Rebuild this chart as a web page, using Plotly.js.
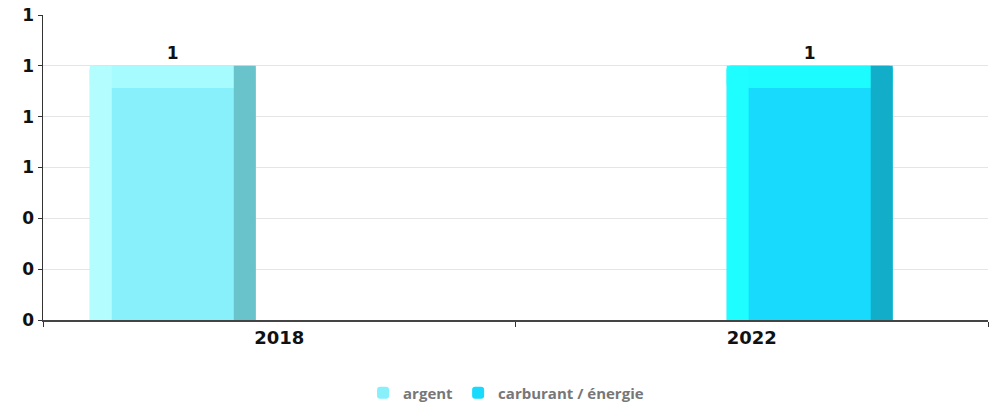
<!DOCTYPE html>
<html><head><meta charset="utf-8">
<script src="https://cdn.plot.ly/plotly-3.0.1.min.js"></script>
<style>html,body{margin:0;padding:0;background:#fff}#c{width:998px;height:404px}</style>
</head><body><div id="c"></div>
<script>
const categories = ['2018', '2022'];
const argent = [1, null];
const carburant = [null, 1];
const yTicks = [0, 0.2, 0.4, 0.6, 0.8, 1, 1.2];

const unit = 1 / 472.5; // category units per pixel (approx)
const W = 166 * unit, S = 22 * unit, T = 0.087;

function barSet(name, vals, offset, main, light, dark, top) {
  const common = {type: 'bar', x: categories, width: W, hoverinfo: 'skip', showlegend: false};
  return [
    Object.assign({}, common, {name: name, y: vals, offset: offset, marker: {color: main, cornerradius: 4},
      showlegend: true, text: vals.map(v => v == null ? '' : String(v)), textposition: 'outside',
      textfont: {family: 'DejaVu Sans', size: 17, color: '#111', weight: 'bold'}, cliponaxis: false}),
    Object.assign({}, common, {y: vals.map(v => v == null ? null : T), base: vals.map(v => v == null ? null : v - T),
      offset: offset, marker: {color: top, cornerradius: 4}}),
    Object.assign({}, common, {y: vals, offset: offset, width: S, marker: {color: light}}),
    Object.assign({}, common, {y: vals, offset: offset + W - S, width: S, marker: {color: dark}})
  ];
}

const data = [
  ...barSet('argent', argent, -0.401, '#88f0fb', '#b4fdff', '#69c3cb', '#a6fbff'),
  ...barSet('carburant / énergie', carburant, -0.053, '#17dafd', '#1efdff', '#12adc8', '#1cfcff')
];

const layout = {
  width: 998, height: 404,
  margin: {l: 43, r: 10, t: 15, b: 84},
  barmode: 'overlay',
  paper_bgcolor: '#fff', plot_bgcolor: '#fff',
  font: {family: 'DejaVu Sans', color: '#111'},
  xaxis: {type: 'category', tickson: 'boundaries', ticks: 'outside', ticklen: 5, tickcolor: '#333',
    showline: true, linecolor: '#444', linewidth: 2, showgrid: false, automargin: false,
    tickfont: {family: 'DejaVu Sans', size: 18, color: '#111', weight: 'bold'}},
  yaxis: {range: [0, 1.2001], tickvals: yTicks, tickformat: '.0f', ticks: 'outside', ticklen: 4, tickcolor: '#333',
    showline: true, linecolor: '#333', linewidth: 1.5, gridcolor: '#e5e5e5', zeroline: false, automargin: false,
    tickfont: {family: 'DejaVu Sans', size: 17, color: '#111', weight: 'bold'}},
  legend: {orientation: 'h', x: 0.49, xanchor: 'center', xref: 'paper', yref: 'container', y: 0.027, yanchor: 'middle',
    font: {family: 'Open Sans', size: 15, color: '#777', weight: 'bold'}, traceorder: 'normal'},
  showlegend: true
};
Plotly.newPlot('c', data, layout, {displayModeBar: false, staticPlot: true});
</script></body></html>
